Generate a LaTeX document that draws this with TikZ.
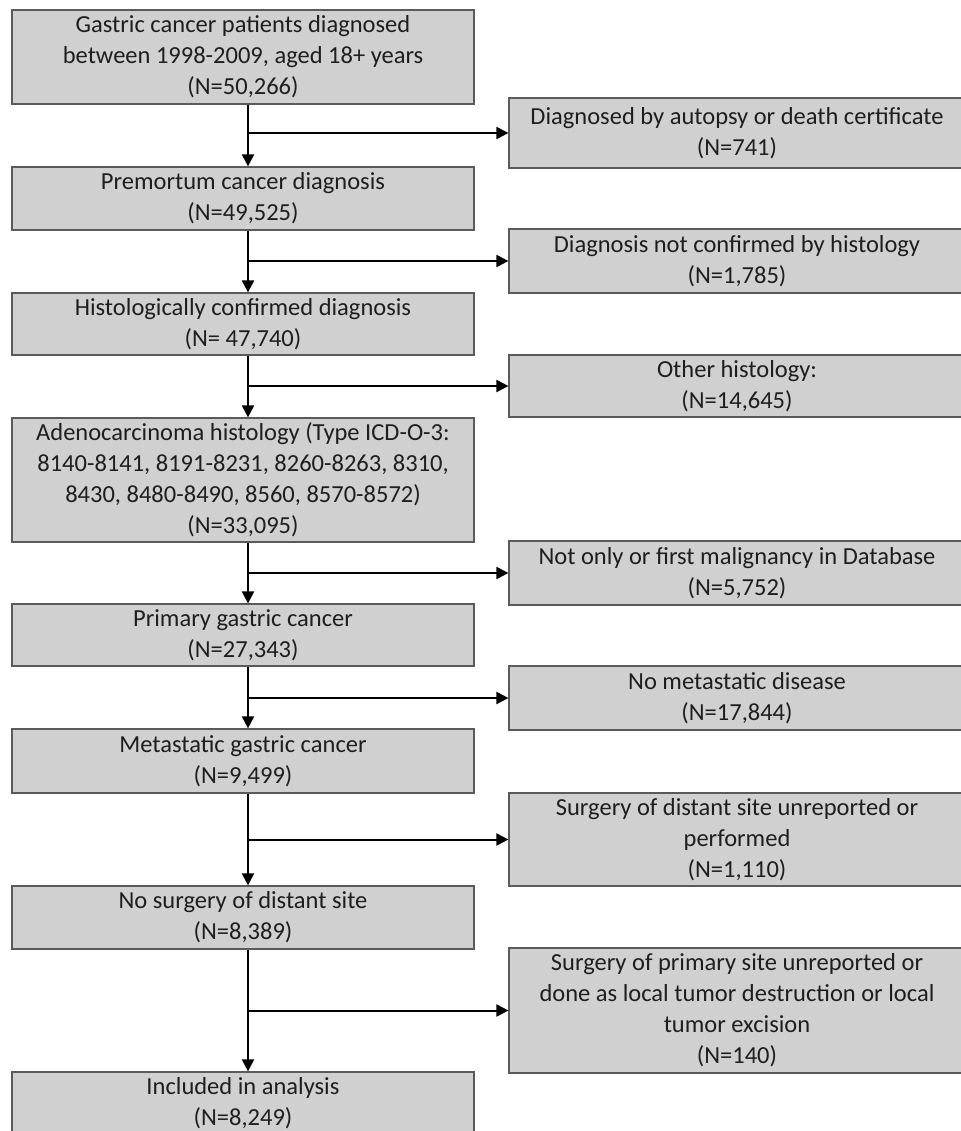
\documentclass[tikz,border=0pt]{standalone}
\usepackage{fontspec}
\setmainfont{Carlito}
\usetikzlibrary{arrows.meta}
\definecolor{boxgray}{HTML}{D0D0D0}
\definecolor{edgegray}{HTML}{5A5A5A}
\definecolor{inkgray}{HTML}{1E1E1E}
\tikzset{
  flowbox/.style={draw=edgegray, line width=1.2pt, fill=boxgray, align=center, inner sep=0pt,
    font=\fontsize{24.5}{31}\selectfont, text=inkgray},
  mainbox/.style={flowbox, minimum width=462pt},
  sidebox/.style={flowbox, minimum width=456pt},
  arr/.style={-{Triangle[length=12pt,width=12pt]}, line width=2pt}
}
\begin{document}
\begin{tikzpicture}[x=1pt,y=-1pt]
\useasboundingbox (0,0) rectangle (960,1131);
\fill[white] (0,0) rectangle (960,1131);
% main column
\node[mainbox, minimum height=94pt] (allpat) at (243,57) {Gastric cancer patients diagnosed\\between 1998-2009, aged 18+ years\\(N=50,266)};
\node[mainbox, minimum height=63pt] (premort) at (243,198.5) {Premortum cancer diagnosis\\(N=49,525)};
\node[mainbox, minimum height=62pt] (histconf) at (243,324) {Histologically confirmed diagnosis\\(N= 47,740)};
\node[mainbox, minimum height=124pt] (adeno) at (243,480) {Adenocarcinoma histology (Type ICD-O-3:\\8140-8141, 8191-8231, 8260-8263, 8310,\\8430, 8480-8490, 8560, 8570-8572)\\(N=33,095)};
\node[mainbox, minimum height=62pt] (primary) at (243,635) {Primary gastric cancer\\(N=27,343)};
\node[mainbox, minimum height=64pt] (metast) at (243,761) {Metastatic gastric cancer\\(N=9,499)};
\node[mainbox, minimum height=63pt] (nosurg) at (243,917.5) {No surgery of distant site\\(N=8,389)};
\node[mainbox, minimum height=63pt] (included) at (243,1103.5) {Included in analysis\\(N=8,249)};
% exclusions
\node[sidebox, minimum height=70pt] (autopsy) at (737,133) {Diagnosed by autopsy or death certificate\\(N=741)};
\node[sidebox, minimum height=64pt] (nohist) at (737,261) {Diagnosis not confirmed by histology\\(N=1,785)};
\node[sidebox, minimum height=62pt] (otherhist) at (737,386) {Other histology:\\(N=14,645)};
\node[sidebox, minimum height=64pt] (notfirst) at (737,573) {Not only or first malignancy in Database\\(N=5,752)};
\node[sidebox, minimum height=64pt] (nometa) at (737,698) {No metastatic disease\\(N=17,844)};
\node[sidebox, minimum height=93pt] (distsurg) at (737,839.5) {Surgery of distant site unreported or\\performed\\(N=1,110)};
\node[sidebox, minimum height=125pt] (primsurg) at (737,1010.5) {Surgery of primary site unreported or\\done as local tumor destruction or local\\tumor excision\\(N=140)};
% connectors
\foreach \from/\to/\side in {allpat/premort/autopsy, premort/histconf/nohist, histconf/adeno/otherhist,
    adeno/primary/notfirst, primary/metast/nometa, metast/nosurg/distsurg, nosurg/included/primsurg}{
  \coordinate (top-\from) at ([xshift=5pt]\from.south);
  \coordinate (bot-\from) at ([xshift=5pt]\to.north);
  \draw[arr] (top-\from) -- (bot-\from);
  \draw[arr] (top-\from |- \side.west) -- (\side.west);
}
\end{tikzpicture}
\end{document}
